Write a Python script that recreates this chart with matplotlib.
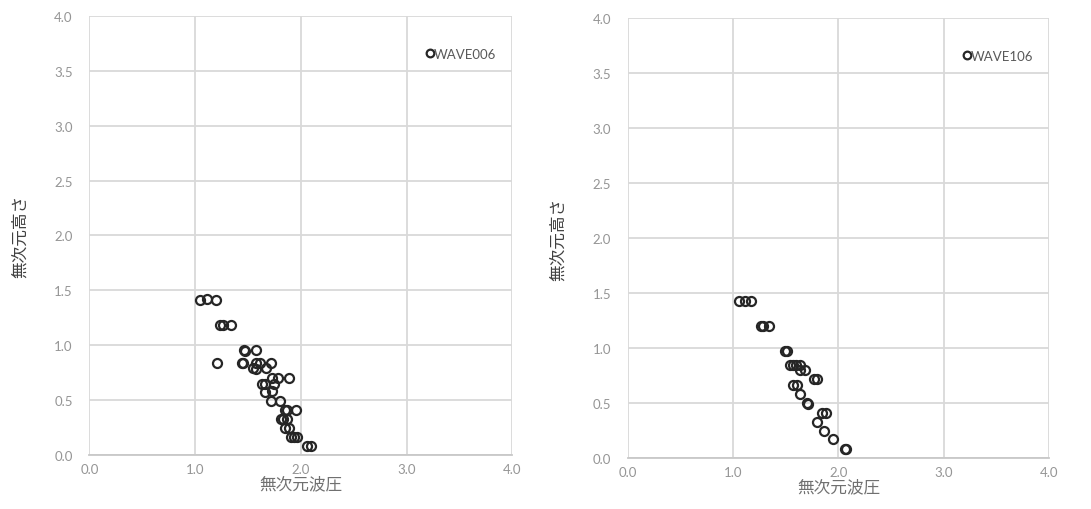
import matplotlib.pyplot as plt

plt.rcParams['font.family'] = ['Noto Sans CJK JP', 'DejaVu Sans']

# WAVE006 (left panel)
x006 = [1.05, 1.11, 1.20, 1.24, 1.26, 1.34, 1.21, 1.46, 1.47, 1.58, 1.44, 1.45,
        1.58, 1.61, 1.72, 1.55, 1.58, 1.67, 1.73, 1.78, 1.89, 1.63, 1.66, 1.75,
        1.66, 1.73, 1.72, 1.80, 1.85, 1.87, 1.95, 1.81, 1.83, 1.87, 1.85, 1.89,
        1.91, 1.94, 1.96, 2.06, 2.10]
y006 = [1.41, 1.42, 1.41, 1.18, 1.18, 1.18, 0.84, 0.96, 0.95, 0.96, 0.84, 0.84,
        0.84, 0.84, 0.84, 0.79, 0.78, 0.79, 0.70, 0.70, 0.70, 0.65, 0.65, 0.65,
        0.57, 0.58, 0.49, 0.49, 0.41, 0.41, 0.41, 0.33, 0.33, 0.33, 0.25, 0.25,
        0.16, 0.16, 0.16, 0.08, 0.08]

# WAVE106 (right panel)
x106 = [1.06, 1.11, 1.17, 1.27, 1.28, 1.34, 1.49, 1.51, 1.54, 1.57, 1.60, 1.64,
        1.64, 1.68, 1.77, 1.80, 1.57, 1.61, 1.64, 1.70, 1.71, 1.80, 1.84, 1.88,
        1.86, 1.95, 2.06, 2.07]
y106 = [1.43, 1.43, 1.43, 1.20, 1.20, 1.20, 0.97, 0.97, 0.85, 0.85, 0.85, 0.85,
        0.80, 0.80, 0.72, 0.72, 0.66, 0.66, 0.58, 0.50, 0.49, 0.33, 0.41, 0.41,
        0.25, 0.17, 0.08, 0.08]

ticks = [0.0, 1.0, 2.0, 3.0, 4.0]
yticks = [0.0, 0.5, 1.0, 1.5, 2.0, 2.5, 3.0, 3.5, 4.0]

fig = plt.figure(figsize=(10.91, 5.10), dpi=100)
ax1 = fig.add_axes([0.0819, 0.1059, 0.3877, 0.861])
ax2 = fig.add_axes([0.5753, 0.100, 0.3864, 0.862])

for ax, xs, ys, name in [(ax1, x006, y006, 'WAVE006'), (ax2, x106, y106, 'WAVE106')]:
    ax.plot(xs, ys, 'o', markersize=6.5, markerfacecolor='none',
            markeredgecolor='#262626', markeredgewidth=1.6, label=name)
    ax.set_xlim(0, 4)
    ax.set_ylim(0, 4)
    ax.set_xticks(ticks)
    ax.set_yticks(yticks)
    ax.set_xticklabels(['%.1f' % t for t in ticks])
    ax.set_yticklabels(['%.1f' % t for t in yticks])
    ax.grid(True, color='#d9d9d9', linewidth=1.3)
    ax.set_axisbelow(True)
    for s in ['top', 'right', 'left']:
        ax.spines[s].set_visible(False)
    ax.spines['bottom'].set_color('#c8c8c8')
    ax.spines['bottom'].set_linewidth(1.3)
    ax.tick_params(length=0, labelsize=9.5, labelcolor='#959595')
    ax.tick_params(axis='x', pad=6)
    ax.tick_params(axis='y', pad=12)
    for lab in ax.get_xticklabels() + ax.get_yticklabels():
        lab.set_family(['Lato', 'DejaVu Sans'])
    ax.set_xlabel('無次元波圧', fontsize=12, color='#707070', labelpad=0)
    ax.set_ylabel('無次元高さ', fontsize=12, color='#404040', labelpad=18)
    leg = ax.legend(loc='upper right', bbox_to_anchor=(0.99, 0.955), frameon=False,
                    handletextpad=-0.3, handlelength=1.2, fontsize=9.5, markerscale=0.85)
    for t in leg.get_texts():
        t.set_color('#595959')
        t.set_family(['Lato', 'DejaVu Sans'])

fig.savefig('out.png', dpi=100)
